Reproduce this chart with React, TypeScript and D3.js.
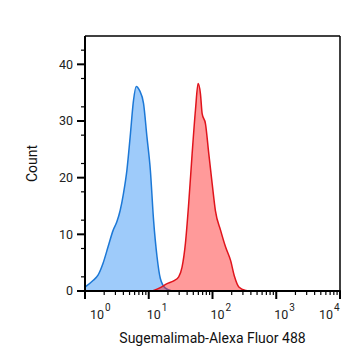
import React from "react";
import * as d3 from "d3";

// Isotype / unstained (blue) histogram
const blueFluor = [1.0, 1.35, 1.6, 1.92, 2.3, 2.76, 3.16, 3.56, 4.01, 4.54, 5.11, 5.76, 6.35, 7.16, 8.28, 9.37, 10.6, 11.9, 13.5, 15.2, 18.2, 23.2];
const blueCount = [0.7, 1.9, 2.8, 4.9, 7.8, 10.7, 12.2, 14.2, 17.2, 21.3, 27.2, 33.6, 36.1, 35.4, 33.1, 27.2, 21.3, 12.5, 6.0, 2.2, 0.5, 0];

// Stained (red) histogram
const redFluor = [11.4, 15.2, 19.4, 24.6, 29.5, 33.3, 37.6, 42.3, 47.9, 54.0, 59.5, 64.7, 68.8, 77.6, 87.5, 98.9, 111, 134, 160, 192, 222, 259, 331, 397];
const redCount = [0, 0.6, 1.3, 1.8, 2.5, 4.2, 8.4, 15.4, 24.2, 31.9, 36.6, 34.8, 31.3, 29.5, 24.2, 18.9, 14.2, 10.7, 7.8, 5.4, 2.5, 0.7, 0.1, 0];

const yTicks = [0, 10, 20, 30, 40];
const xDecades = [0, 1, 2, 3, 4];
const xLabelShift = [5, -2, -2, -2, -21];

const W = 361;
const H = 364;
const L = 85, T = 36, R = 340, B = 291;
const FONT = "Roboto, 'Noto Sans', sans-serif";

export default function App() {
  const x = d3.scaleLog().domain([1, 10000]).range([L, R]);
  const y = d3.scaleLinear().domain([0, 45]).range([B, T]);

  const area = d3
    .area<[number, number]>()
    .x((d) => x(d[0]))
    .y0(y(0))
    .y1((d) => y(d[1]))
    .curve(d3.curveMonotoneX);
  const line = d3
    .line<[number, number]>()
    .x((d) => x(d[0]))
    .y((d) => y(d[1]))
    .curve(d3.curveMonotoneX);

  const blue = blueFluor.map((v, i) => [v, blueCount[i]] as [number, number]);
  const red = redFluor.map((v, i) => [v, redCount[i]] as [number, number]);

  const minorX: number[] = [];
  for (let dcd = 0; dcd < 4; dcd++) {
    for (let m = 2; m <= 9; m++) minorX.push(m * Math.pow(10, dcd));
  }
  const minorY: number[] = [];
  for (let v = 2.5; v <= 45; v += 5) minorY.push(v);

  return (
    <svg width={W} height={H} style={{ position: "absolute", left: 0, top: 0, background: "#fff" }}>
      <defs>
        <clipPath id="plotclip">
          <rect x={L} y={T} width={R - L} height={B - T} />
        </clipPath>
      </defs>
      <g clipPath="url(#plotclip)">
        <path d={area(blue) || ""} fill="#3d98f5" fillOpacity={0.5} />
        <path d={line(blue) || ""} fill="none" stroke="#1c78d6" strokeWidth={1.5} />
        <path d={area(red) || ""} fill="#ff2020" fillOpacity={0.45} />
        <path d={line(red) || ""} fill="none" stroke="#e0141c" strokeWidth={1.5} />
      </g>
      {/* frame */}
      <line x1={L} y1={T} x2={R} y2={T} stroke="#000" strokeWidth={1.5} />
      <line x1={R} y1={T} x2={R} y2={B} stroke="#000" strokeWidth={1.5} />
      <line x1={L} y1={T} x2={L} y2={B + 1} stroke="#000" strokeWidth={2} />
      <line x1={L - 1} y1={B} x2={R + 0.75} y2={B} stroke="#000" strokeWidth={2.2} />

      {/* y ticks */}
      {minorY.map((v) => (
        <line key={"my" + v} x1={L - 4} x2={L} y1={y(v)} y2={y(v)} stroke="#000" strokeWidth={1.2} />
      ))}
      {yTicks.map((v) => (
        <g key={"y" + v}>
          <line x1={L - 8} x2={L} y1={y(v)} y2={y(v)} stroke="#000" strokeWidth={2} />
          <text x={L - 12} y={y(v)} dy="0.35em" textAnchor="end" fontFamily={FONT} fontSize={12.5} fill="#222">
            {v}
          </text>
        </g>
      ))}

      {/* x ticks */}
      {minorX.map((v) => (
        <line key={"mx" + v} x1={x(v)} x2={x(v)} y1={B} y2={B + 4} stroke="#000" strokeWidth={1.2} />
      ))}
      {xDecades.map((p, i) => {
        const px = x(Math.pow(10, p));
        const sx = px + xLabelShift[i];
        return (
          <g key={"x" + p}>
            <line x1={px} x2={px} y1={B} y2={B + 8} stroke="#000" strokeWidth={2} />
            <text x={sx} y={318.5} fontFamily={FONT} fontSize={12.5} fill="#222">10</text>
            <text x={sx + 15} y={311} fontFamily={FONT} fontSize={10} fill="#222">{p}</text>
          </g>
        );
      })}

      <text
        transform={`translate(37,${(T + B) / 2}) rotate(-90)`}
        textAnchor="middle"
        fontFamily={FONT}
        fontSize={14}
        fill="#111"
      >
        Count
      </text>
      <text x={(L + R) / 2} y={343} textAnchor="middle" fontFamily={FONT} fontSize={14} fill="#111">
        Sugemalimab-Alexa Fluor 488
      </text>
    </svg>
  );
}
